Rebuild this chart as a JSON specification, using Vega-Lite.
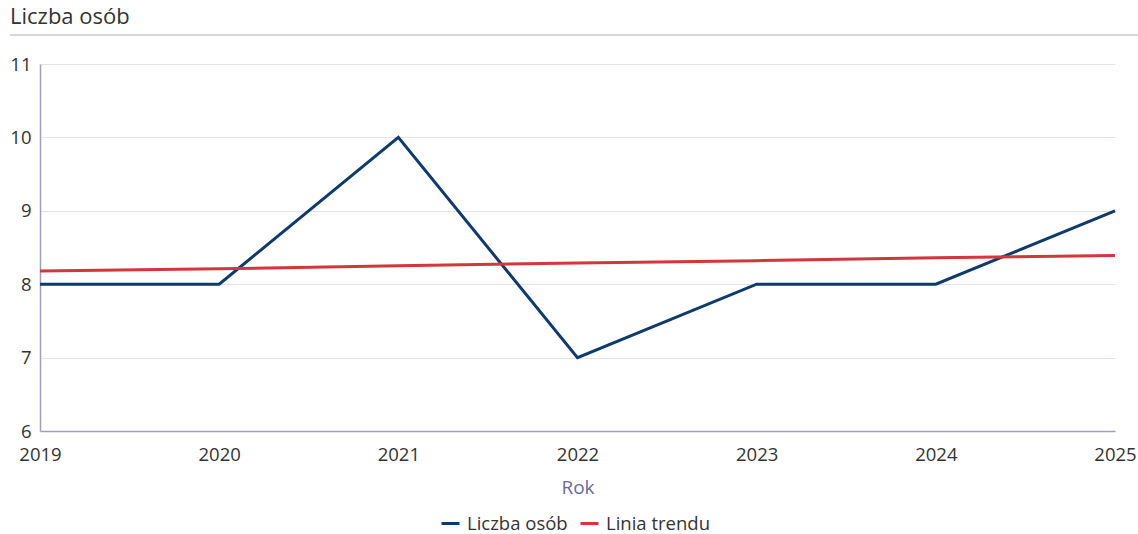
{
  "$schema": "https://vega.github.io/schema/vega-lite/v6.json",
  "autosize": {"type": "none"},
  "width": 1075,
  "height": 367,
  "padding": {"left": 40, "top": 64, "right": 23, "bottom": 103},
  "background": "white",
  "config": {
    "font": "Open Sans",
    "view": {"stroke": null}
  },
  "title": {
    "text": "Liczba osób",
    "anchor": "start",
    "frame": "group",
    "dx": -30,
    "offset": 5,
    "fontSize": 22,
    "fontWeight": "normal",
    "color": "#333333",
    "font": "Open Sans"
  },
  "datasets": {
    "series": [
      {"rok": 2019, "wartosc": 8, "seria": "Liczba osób"},
      {"rok": 2020, "wartosc": 8, "seria": "Liczba osób"},
      {"rok": 2021, "wartosc": 10, "seria": "Liczba osób"},
      {"rok": 2022, "wartosc": 7, "seria": "Liczba osób"},
      {"rok": 2023, "wartosc": 8, "seria": "Liczba osób"},
      {"rok": 2024, "wartosc": 8, "seria": "Liczba osób"},
      {"rok": 2025, "wartosc": 9, "seria": "Liczba osób"},
      {"rok": 2019, "wartosc": 8.18, "seria": "Linia trendu"},
      {"rok": 2020, "wartosc": 8.21, "seria": "Linia trendu"},
      {"rok": 2021, "wartosc": 8.25, "seria": "Linia trendu"},
      {"rok": 2022, "wartosc": 8.29, "seria": "Linia trendu"},
      {"rok": 2023, "wartosc": 8.32, "seria": "Linia trendu"},
      {"rok": 2024, "wartosc": 8.36, "seria": "Linia trendu"},
      {"rok": 2025, "wartosc": 8.39, "seria": "Linia trendu"}
    ],
    "separator": [
      {"x1": 2018.833, "x2": 2025.128, "y": 11.395}
    ]
  },
  "layer": [
    {
      "data": {"name": "separator"},
      "mark": {"type": "rule", "clip": false, "color": "#c8c8da", "strokeWidth": 1.5},
      "encoding": {
        "x": {"field": "x1", "type": "quantitative", "scale": {"domain": [2019, 2025]}},
        "x2": {"field": "x2"},
        "y": {"field": "y", "type": "quantitative", "scale": {"domain": [6, 11]}}
      }
    },
    {
      "data": {"name": "series"},
      "mark": {"type": "line", "strokeWidth": 3, "strokeJoin": "miter"},
      "encoding": {
        "x": {
          "field": "rok",
          "type": "quantitative",
          "title": "Rok",
          "scale": {"domain": [2019, 2025], "nice": false, "zero": false},
          "axis": {
            "values": [2019, 2020, 2021, 2022, 2023, 2024, 2025],
            "format": "d",
            "grid": false,
            "ticks": false,
            "domainColor": "#9fa0c0",
            "domainWidth": 1.5,
            "labelFontSize": 18.5,
            "labelColor": "#333333",
            "labelPadding": 14,
            "labelFlush": false,
            "titleFontSize": 19,
            "titleFontWeight": "normal",
            "titleColor": "#6a6a9c",
            "titlePadding": 15
          }
        },
        "y": {
          "field": "wartosc",
          "type": "quantitative",
          "title": null,
          "scale": {"domain": [6, 11], "nice": false, "zero": false},
          "axis": {
            "values": [6, 7, 8, 9, 10, 11],
            "format": "d",
            "grid": true,
            "gridColor": "#e3e3ec",
            "gridWidth": 1,
            "ticks": false,
            "domainColor": "#9fa0c0",
            "domainWidth": 1.5,
            "labelFontSize": 18.5,
            "labelColor": "#333333",
            "labelPadding": 9
          }
        },
        "color": {
          "field": "seria",
          "type": "nominal",
          "scale": {"domain": ["Liczba osób", "Linia trendu"], "range": ["#0e3a6c", "#d3363b"]},
          "legend": {
            "title": null,
            "orient": "none",
            "legendX": 400,
            "legendY": 449,
            "direction": "horizontal",
            "symbolType": "stroke",
            "symbolSize": 324,
            "symbolStrokeWidth": 3,
            "labelFontSize": 18.5,
            "labelColor": "#333333",
            "columnPadding": 6,
            "labelOffset": 6
          }
        }
      }
    }
  ]
}
